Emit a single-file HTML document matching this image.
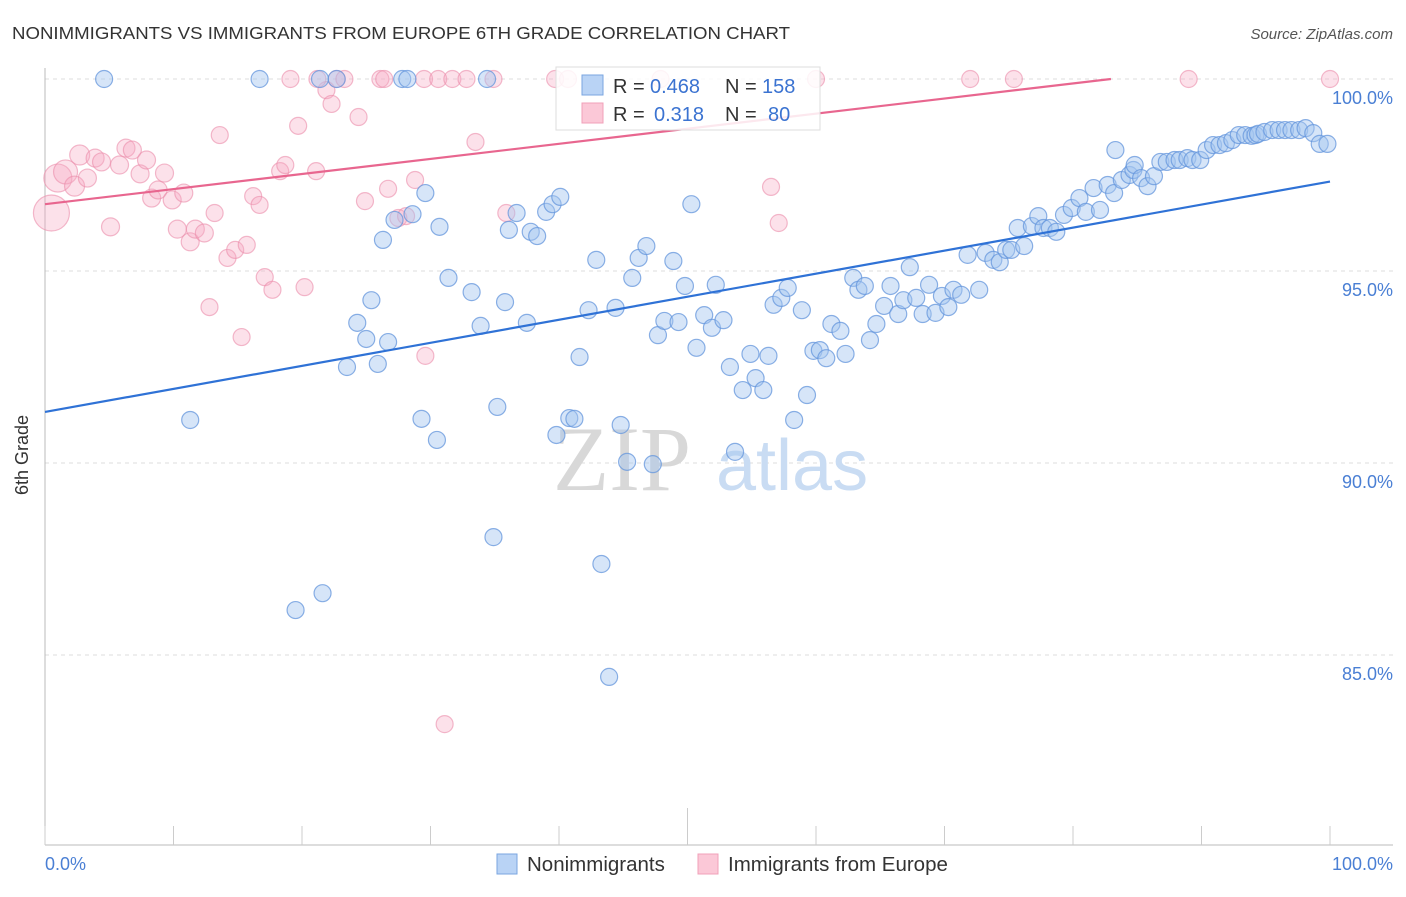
<!DOCTYPE html>
<html><head><meta charset="utf-8"><style>
body{margin:0;background:#fff;width:1406px;height:892px;overflow:hidden;font-family:"Liberation Sans",sans-serif}
</style></head><body>
<svg id="chart" width="1406" height="892" xmlns="http://www.w3.org/2000/svg">
<text x="12" y="39" font-size="17.5" fill="#333" textLength="778" lengthAdjust="spacingAndGlyphs">NONIMMIGRANTS VS IMMIGRANTS FROM EUROPE 6TH GRADE CORRELATION CHART</text>
<text x="1393" y="39" font-size="15" fill="#555" font-style="italic" text-anchor="end">Source: ZipAtlas.com</text>
<g id="grid"></g>
<g>
<text x="553" y="490" font-size="92" font-family="Liberation Serif,serif" fill="#d8d8d8">ZIP</text>
<text x="716" y="490" font-size="72" fill="#c9dcf3">atlas</text>
</g>
<line x1="45" y1="68" x2="45" y2="845" stroke="#bbb"/>
<line x1="45" y1="845" x2="1393" y2="845" stroke="#bbb"/>
<g id="xticks"></g>
<g id="pinkpts"></g>
<g id="bluepts"></g>
<g id="trends"></g>
<text x="28" y="455" font-size="18" fill="#333" text-anchor="middle" transform="rotate(-90 28 455)">6th Grade</text>
<text x="45" y="870" font-size="18" fill="#4a7fd4">0.0%</text>
<text x="1393" y="870" font-size="18" fill="#4a7fd4" text-anchor="end">100.0%</text>
<g>
<rect x="556" y="67" width="264" height="63" fill="#fff" fill-opacity="0.85" stroke="#ddd"/>
<rect x="582" y="75" width="21" height="20" fill="#b9d3f5" stroke="#7aa6e0"/>
<rect x="582" y="103" width="21" height="20" fill="#fbc8d7" stroke="#f0a0b8"/>
<text x="613" y="93" font-size="20" fill="#333">R = <tspan x="650" fill="#3b73d1">0.468</tspan><tspan x="725">N = </tspan><tspan x="762" fill="#3b73d1">158</tspan></text>
<text x="613" y="121" font-size="20" fill="#333">R = <tspan x="654" fill="#3b73d1">0.318</tspan><tspan x="725">N = </tspan><tspan x="768" fill="#3b73d1">80</tspan></text>
</g>
<g>
<rect x="497" y="854" width="20" height="20" fill="#b9d3f5" stroke="#7aa6e0"/>
<text x="527" y="871" font-size="20.5" fill="#333">Nonimmigrants</text>
<rect x="698" y="854" width="20" height="20" fill="#fbc8d7" stroke="#f0a0b8"/>
<text x="728" y="871" font-size="20.5" fill="#333">Immigrants from Europe</text>
</g>
</svg>
<script>
const yTicks=[100,95,90,85];
const yTickLabels=["100.0%","95.0%","90.0%","85.0%"];
const xTicks=[0,10,20,30,40,50,60,70,80,90,100];
const blueX=[4.6,16.7,21.4,22.7,27.8,28.2,34.4,11.3,19.5,21.6,23.5,24.3,25.0,25.4,25.9,26.3,26.7,27.2,28.6,29.3,29.6,30.5,30.7,31.4,33.2,33.9,34.9,35.2,35.8,36.1,36.7,37.5,37.8,38.3,39.0,39.5,39.8,40.1,40.8,41.2,41.6,42.3,42.9,43.3,43.9,44.4,44.8,45.3,45.7,46.2,46.8,47.3,47.7,48.2,48.9,49.3,49.8,50.3,50.7,51.3,51.9,52.2,52.8,53.3,53.7,54.3,54.9,55.3,55.9,56.3,56.7,57.3,57.8,58.3,58.9,59.3,59.8,60.3,60.8,61.2,61.9,62.3,62.9,63.3,63.8,64.2,64.7,65.3,65.8,66.4,66.8,67.3,67.8,68.3,68.8,69.3,69.8,70.3,70.7,71.3,71.8,72.7,73.2,73.8,74.3,74.8,75.2,75.7,76.2,76.8,77.3,77.7,78.2,78.7,79.3,79.9,80.5,81.0,81.6,82.1,82.7,83.2,83.3,83.8,84.4,84.7,84.8,85.3,85.8,86.3,86.8,87.3,87.9,88.3,88.9,89.3,89.9,90.4,90.9,91.4,91.9,92.4,92.9,93.4,93.9,94.2,94.4,94.9,95.5,96.0,96.5,97.0,97.6,98.1,98.7,99.2,99.8];
const blueY=[100,100,100,100,100,100,100,91.12,86.17,86.61,92.50,93.65,93.23,94.24,92.58,95.81,93.15,96.33,96.48,91.15,97.03,90.60,96.15,94.82,94.45,93.57,88.07,91.46,94.19,96.07,96.51,93.65,96.02,95.91,96.54,96.74,90.73,96.93,91.17,91.15,92.76,93.98,95.29,87.37,84.43,94.04,90.99,90.03,94.82,95.34,95.65,89.97,93.33,93.70,95.26,93.67,94.61,96.74,93.00,93.85,93.52,94.64,93.72,92.50,90.29,91.90,92.84,92.21,91.90,92.79,94.12,94.30,94.56,91.12,93.98,91.77,92.92,92.94,92.73,93.62,93.44,92.84,94.82,94.51,94.61,93.20,93.62,94.09,94.61,93.88,94.24,95.10,94.30,93.88,94.64,93.91,94.35,94.06,94.51,94.38,95.42,94.51,95.47,95.29,95.23,95.55,95.55,96.12,95.65,96.17,96.43,96.12,96.12,96.02,96.46,96.64,96.90,96.54,97.16,96.59,97.24,97.03,98.15,97.37,97.50,97.63,97.76,97.42,97.21,97.47,97.84,97.84,97.89,97.89,97.94,97.89,97.89,98.15,98.28,98.28,98.33,98.41,98.54,98.54,98.52,98.54,98.57,98.62,98.67,98.67,98.67,98.67,98.67,98.72,98.59,98.31,98.31];
const pinkX=[0.5,1.0,1.6,2.3,2.7,3.3,3.9,4.4,5.1,5.8,6.3,6.8,7.4,7.9,8.3,8.8,9.3,9.9,10.3,10.8,11.3,11.7,12.4,12.8,13.2,13.6,14.2,14.8,15.3,15.7,16.2,16.7,17.1,17.7,18.3,18.7,19.7,20.2,21.1,21.9,22.3,24.4,24.9,26.7,27.5,28.1,28.8,29.6,31.1,33.5,35.9,56.5,57.1,19.1,21.2,22.7,23.3,26.1,26.4,29.5,30.6,31.7,32.8,34.9,39.7,40.7,47.9,60.0,72.0,75.4,89.0,100];
const pinkY=[96.51,97.42,97.58,97.21,98.02,97.42,97.94,97.84,96.15,97.76,98.20,98.15,97.53,97.89,96.90,97.11,97.55,96.85,96.09,97.03,95.76,96.09,95.99,94.06,96.51,98.54,95.34,95.55,93.28,95.68,96.95,96.72,94.84,94.51,97.60,97.76,98.78,94.58,97.60,99.71,99.35,99.01,96.82,97.14,96.38,96.43,97.37,92.79,83.20,98.36,96.51,97.19,96.25,100,100,100,100,100,100,100,100,100,100,100,100,100,100,100,100,100,100,100];
const pinkR=[18,14,12,10,10,9,9,9,9,9,9,9,9,9,9,9,9,9,9,9,9,9,9];
const blueTrend=[91.33,97.33];
const pinkTrend=[96.74,100.67];

const NS="http://www.w3.org/2000/svg";
const X=v=>45+v*12.85;
const Y=v=>79+(100-v)*38.4;
function mk(tag,attrs,parent){const e=document.createElementNS(NS,tag);for(const k in attrs)e.setAttribute(k,attrs[k]);parent.appendChild(e);return e;}
const grid=document.getElementById('grid');
yTicks.forEach((t,i)=>{
  const l=mk('line',{x1:45,x2:1393,y1:Y(t),y2:Y(t),stroke:'#ddd','stroke-dasharray':'4 4'},grid);
  
  
  const tx=mk('text',{x:1393,y:Y(t)+25,'font-size':18,fill:'#4a7fd4','text-anchor':'end'},grid);
  tx.textContent=yTickLabels[i];
  
  
});
const xt=document.getElementById('xticks');
xTicks.forEach(t=>{
  const l=mk('line',{x1:X(t),x2:X(t),y1:t===50?808:826,y2:845,stroke:'#ccc'},xt);
  
  
});
const pg=document.getElementById('pinkpts');
pinkX.forEach((v,i)=>{
  const c=mk('circle',{cx:X(v),cy:Y(pinkY[i]),r:pinkR[i]||8.5,fill:'rgba(246,170,195,0.35)',stroke:'rgba(235,140,170,0.6)','stroke-width':1.2},pg);
  
  
});
const bg=document.getElementById('bluepts');
blueX.forEach((v,i)=>{
  const c=mk('circle',{cx:X(v),cy:Y(blueY[i]),r:8.5,fill:'rgba(165,198,240,0.45)',stroke:'rgba(100,150,220,0.75)','stroke-width':1.2},bg);
  
  
});
const tg=document.getElementById('trends');
const bl=mk('line',{x1:X(0),y1:Y(blueTrend[0]),x2:X(100),y2:Y(blueTrend[1]),stroke:'#2f72d6','stroke-width':2.2},tg);


const xEnd=Math.min(100,(100-pinkTrend[0])/(pinkTrend[1]-pinkTrend[0])*100);
const pe=pinkTrend[0]+(pinkTrend[1]-pinkTrend[0])*xEnd/100;
const pl=mk('line',{x1:X(0),y1:Y(pinkTrend[0]),x2:X(xEnd),y2:Y(pe),stroke:'#e8668f','stroke-width':2.2},tg);


</script>
</body></html>
